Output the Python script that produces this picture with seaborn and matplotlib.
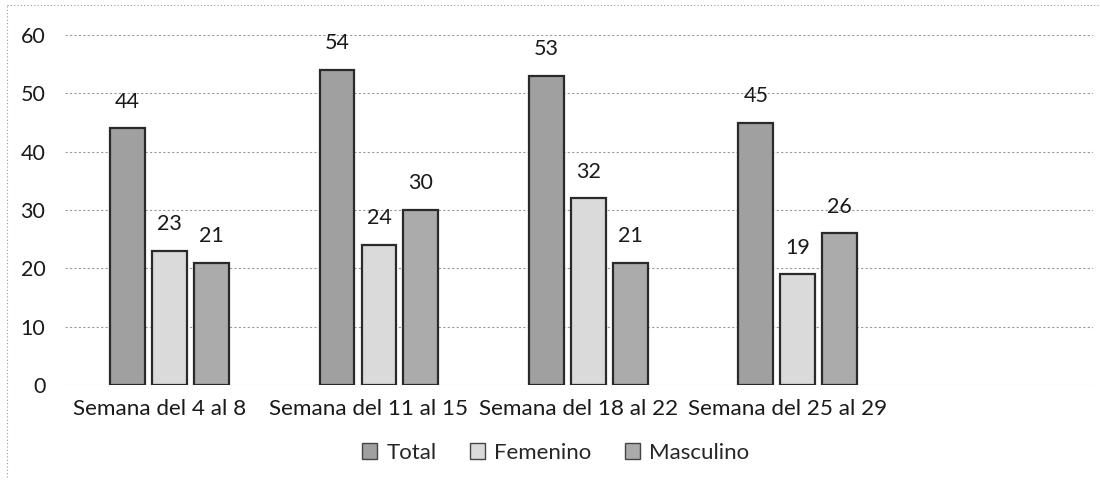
import matplotlib
matplotlib.use("Agg")
import matplotlib.pyplot as plt
import matplotlib.transforms as mtransforms
import pandas as pd
import seaborn as sns
from matplotlib.lines import Line2D

# Datos
semanas = ["Semana del 4 al 8", "Semana del 11 al 15", "Semana del 18 al 22", "Semana del 25 al 29"]
series = ["Total", "Femenino", "Masculino"]
total = [44, 54, 53, 45]
femenino = [23, 24, 32, 19]
masculino = [21, 30, 21, 26]
colores = ["#a0a0a0", "#dadada", "#ababab"]

sns.set_style("white")
plt.rcParams["font.family"] = ["Lato", "DejaVu Sans"]

df = pd.DataFrame({
    "semana": semanas * 3,
    "grupo": [s for s in series for _ in semanas],
    "valor": total + femenino + masculino,
})

fig = plt.figure(figsize=(11, 4.87), dpi=100)
ax = fig.add_axes([0.059, 0.209, 0.9345, 0.719])

sns.barplot(
    data=df, x="semana", y="valor", hue="grupo",
    order=semanas, hue_order=series, palette=colores,
    width=0.6, gap=0.17, edgecolor="#2a2a2a", linewidth=1.6,
    ax=ax, legend=False,
)

for cont in ax.containers:
    ax.bar_label(cont, fmt="%d", padding=12, fontsize=15.5, color="#1a1a1a")

ax.set_ylim(0, 60)
ax.set_yticks(range(0, 61, 10))
ax.set_xlim(-0.5, 4.41)
ax.grid(axis="y", color="#9a9a9a", linestyle=(0, (2, 2)), linewidth=0.8)
ax.set_axisbelow(True)
for s in ax.spines.values():
    s.set_visible(False)
ax.tick_params(axis="y", length=0, pad=14, labelsize=15.5, labelcolor="#1a1a1a")
ax.tick_params(axis="x", length=0, pad=10, labelsize=16.2, labelcolor="#1a1a1a")
ax.set_xlabel("")
ax.set_ylabel("")

# las etiquetas de categoría quedan algo a la izquierda de las barras
shift = mtransforms.ScaledTranslation(-10 / 100, 0, fig.dpi_scale_trans)
for lbl in ax.get_xticklabels():
    lbl.set_transform(lbl.get_transform() + shift)

handles = [
    plt.Rectangle((0, 0), 1, 1, facecolor=c, edgecolor="#444444", linewidth=1)
    for c in colores
]
fig.legend(
    handles, series, loc="center", bbox_to_anchor=(0.505, 0.07), ncol=3,
    frameon=False, fontsize=16, handlelength=0.7, handleheight=0.7,
    handletextpad=0.4, columnspacing=1.5,
)

# Marco punteado del área del gráfico (borde escaneado)
fig.add_artist(Line2D([0.006, 0.006], [0.02, 0.99], transform=fig.transFigure,
                      color="#9a9a9a", linestyle=(0, (1, 2)), linewidth=0.8))
fig.add_artist(Line2D([0.006, 1.0], [0.99, 0.99], transform=fig.transFigure,
                      color="#9a9a9a", linestyle=(0, (1, 2)), linewidth=0.8))

fig.savefig("out.png", dpi=100)
